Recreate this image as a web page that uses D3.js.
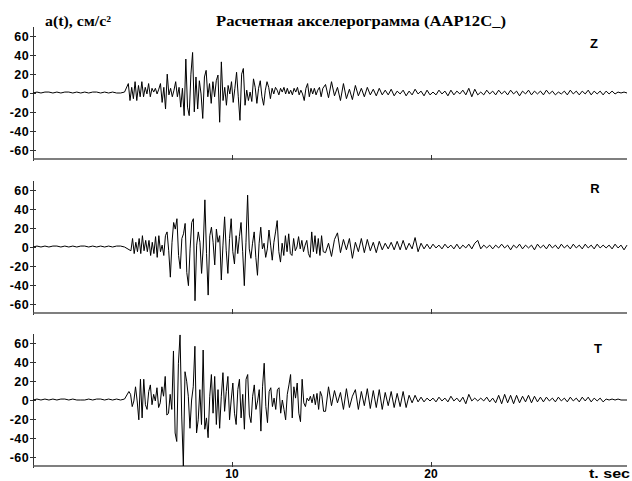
<!DOCTYPE html>
<html><head><meta charset="utf-8">
<script src="https://cdn.jsdelivr.net/npm/d3@7"></script>
<style>html,body{margin:0;padding:0;background:#fff;} svg{display:block;}</style>
</head><body><svg id="c" width="632" height="481"></svg>
<script>
// ---------------- data ----------------
const components = ["Z", "R", "T"];
const yTicks = [-60, -40, -20, 0, 20, 40, 60];
const xTickValues = [10, 20];
const xTickLabels = ["10", "20"];
const titleText = "Расчетная акселерограмма (AAP12C_)";
const yAxisLabel = "a(t), см/с²";
const xAxisLabel = "t. sec";

// quiet pre-event part (dt = 0.2 s from t = 0)
const preDt = 0.2;
const zPre = [0,1,0,1,1,0,1,0,1,1,0,1,0,1,0,1,1,0,1,0,1,0,0,1];
const rPre = [0,1,0,1,0,1,1,0,1,0,1,0,1,1,0,1,0,1,0,1,0,1,1,0];
const tPre = [0,1,0,1,0,1,0,1,1,0,1,0,0,0,1,0,1,1,0,1,0,1,0,1];

// strong-motion part
const zStrongStart = 4.79, zStrongDt = 0.085;
const zStrong = [10,-8,6,-6,12,-8,8,-4,12,-4,
  6,-1,10,-4,5,1,5,-1,4,10,
  -10,6,-17,20,-2,5,-4,3,12,-4,
  6,-15,5,-24,36,-15,-24,20,43,-20,
  17,-17,13,-1,-27,17,24,-4,10,-11,
  12,-4,13,19,-31,33,-8,6,-13,8,
  -1,12,-10,5,22,-4,-29,20,26,-13,
  3,-8,1,-9,15,6,-11,5,13,-4,
  -13,3,12,6,-6,5,-1,6,3,-2,
  5,1,6,-1,5,-1,3,-2,5,1,
  6,-2,3,-1,-8,5,10,-4,5,-1,
  5,-2,3,6,-4,5];
const rStrongStart = 4.92, rStrongDt = 0.0826;
const rStrong = [-4,9,-7,5,-5,9,-7,12,-4,7,
  -5,7,-9,5,-7,11,-11,12,-5,2,
  -9,12,16,-4,-32,5,26,19,30,-9,
  -23,9,14,25,-27,-41,-2,26,30,-57,
  2,16,5,-28,0,50,-7,-51,12,21,
  5,-19,19,5,12,-35,2,32,-4,-28,
  9,30,-5,-18,12,-7,11,26,-5,-41,
  5,55,-2,-12,4,16,-11,-30,4,21,
  -2,4,-11,-2,18,2,-14,5,16,28,
  -5,-16,4,-9,12,-5,14,-7,-9,9,
  -4,0,11,-2,7,-5,2,7,-7,-11,
  16,-5,12,-7,9,-9,12,-5];
const tStrongStart = 4.82, tStrongDt = 0.0829;
const tStrong = [9,6,-7,-1,14,-1,-21,22,-19,22,
  -5,-10,9,16,-5,6,-1,13,-8,-3,
  14,4,25,-16,-14,6,-10,52,-35,-44,
  39,69,-17,-70,30,20,4,-30,0,14,
  57,-35,-21,11,-26,53,-31,-19,-40,4,
  27,-14,25,-26,11,-30,4,29,-12,9,
  25,-21,0,18,-14,-26,11,22,-19,6,
  -31,22,27,-16,-24,4,16,-10,-1,11,
  -33,14,39,-7,-24,9,13,-7,2,-10,
  11,13,-14,0,-10,-21,6,16,27,-19,
  14,2,18,-14,-23,22,-3,-7,2,-1,
  4,-3,6,-5,7,-10,9,4,-12];

// coda part (dt = 0.15 s from t = 14.7)
const tailStart = 14.7, tailDt = 0.15;
const zTail = [9,-5,12,-3,6,-8,10,-6,4,-7,
  8,-3,5,-4,6,-2,4,-3,5,-2,
  3,-2,4,-3,2,-1,3,-3,2,-2,
  4,-1,2,-3,3,-2,1,-2,3,-1,
  2,-3,3,-2,2,-1,3,-2,5,-4,
  4,-2,1,-2,3,-1,2,-2,3,-1,
  2,-2,3,-1,2,-3,2,-1,3,-2,
  2,-1,2,-2,3,-1,2,-2,1,-1,
  2,-2,3,-1,2,-2,2,-1,3,-2,
  2,-1,2,-2,2,-1,2,-1,1,0,
  1,0];
const rTail = [-6,4,-10,8,15,-6,8,-3,9,-12,
  5,-5,9,-6,8,-4,5,-6,6,-3,
  4,-2,5,-3,6,-3,7,-3,4,-2,
  10,-5,4,-2,3,-2,3,-1,2,-2,
  3,-1,2,-2,3,-2,2,-1,3,-2,
  4,7,-2,2,-1,2,-2,2,-1,3,
  -1,2,-3,2,-1,3,-2,2,-1,2,
  -3,3,-1,2,-2,3,-1,2,-2,3,
  -1,2,-2,3,-1,2,-2,3,-1,2,
  -2,3,-1,2,-1,2,-2,3,-1,2,
  -3,2];
const tTail = [-12,14,-6,10,-3,8,-10,12,-8,4,
  11,-10,9,-6,12,-9,10,-8,11,-10,
  8,-6,9,-8,7,-7,9,-8,5,-3,
  5,-2,3,-2,2,-1,2,-2,3,-1,
  2,-2,4,-1,2,-2,3,-4,6,-1,
  2,-1,2,-1,3,-2,2,-3,5,-4,
  6,-3,5,-4,5,-3,4,-2,5,-3,
  4,-2,3,-2,3,-1,2,-2,3,-1,
  2,-2,3,-1,2,-2,3,-1,3,-2,
  2,-1,2,-2,1,0,1,0,1,0,
  0,0];

// ---------------- layout ----------------
const W = 632, H = 481;
const panelTops = [27, 181, 334];
const panelH = 132;
const labelPos = [{x: 594, y: 48}, {x: 595, y: 193}, {x: 598, y: 353}];

const traces = [
  {pre: zPre, s0: zStrongStart, sdt: zStrongDt, strong: zStrong, tail: zTail},
  {pre: rPre, s0: rStrongStart, sdt: rStrongDt, strong: rStrong, tail: rTail},
  {pre: tPre, s0: tStrongStart, sdt: tStrongDt, strong: tStrong, tail: tTail}
];

const svg = d3.select("#c");
svg.append("rect").attr("width", W).attr("height", H).attr("fill", "#fff");

const x = d3.scaleLinear().domain([0, 30]).range([33, 630]);
const sansBold = "'Liberation Sans', Arial, sans-serif";
const serif = "'Liberation Serif', 'Times New Roman', serif";

svg.append("text").attr("x", 45).attr("y", 26)
  .attr("font-family", serif).attr("font-weight", "bold").attr("font-size", 14)
  .attr("textLength", 66).attr("lengthAdjust", "spacingAndGlyphs")
  .text(yAxisLabel);
svg.append("text").attr("x", 216).attr("y", 26)
  .attr("font-family", serif).attr("font-weight", "bold").attr("font-size", 14)
  .attr("textLength", 290).attr("lengthAdjust", "spacingAndGlyphs")
  .text(titleText);

traces.forEach((tr, i) => {
  const top = panelTops[i];
  const bottom = top + panelH;
  const y = d3.scaleLinear().domain([-70, 70]).range([bottom, top]);
  const g = svg.append("g");

  // y axis
  g.append("line").attr("x1", 33.5).attr("x2", 33.5).attr("y1", top).attr("y2", bottom + 2)
    .attr("stroke", "#333").attr("stroke-width", 1);
  yTicks.forEach(v => {
    const yy = Math.round(y(v)) + 0.5;
    g.append("line").attr("x1", 30).attr("x2", 36).attr("y1", yy).attr("y2", yy)
      .attr("stroke", "#333").attr("stroke-width", 1);
    g.append("text").attr("x", 29).attr("y", yy).attr("dy", "0.36em")
      .attr("text-anchor", "end")
      .attr("font-family", sansBold).attr("font-weight", "bold").attr("font-size", 12.5)
      .attr("letter-spacing", "0.4px")
      .text(v);
  });

  // x axis
  g.append("line").attr("x1", x(0)).attr("x2", x(29.85)).attr("y1", bottom).attr("y2", bottom)
    .attr("stroke", "#555").attr("stroke-width", 1.5);
  xTickValues.forEach(v => {
    const xx = Math.round(x(v)) + 0.5;
    g.append("line").attr("x1", xx).attr("x2", xx).attr("y1", bottom - 4).attr("y2", bottom + 1)
      .attr("stroke", "#333").attr("stroke-width", 1);
  });

  // trace
  const pts = [];
  tr.pre.forEach((v, k) => pts.push([k * preDt, v]));
  tr.strong.forEach((v, k) => pts.push([tr.s0 + k * tr.sdt, v]));
  tr.tail.forEach((v, k) => pts.push([tailStart + k * tailDt, v]));
  const line = d3.line().x(d => x(d[0])).y(d => y(d[1]));
  g.append("path").attr("d", line(pts)).attr("fill", "none")
    .attr("stroke", "#000").attr("stroke-width", 1);

  // component label
  g.append("text").attr("x", labelPos[i].x).attr("y", labelPos[i].y)
    .attr("text-anchor", "middle")
    .attr("font-family", sansBold).attr("font-weight", "bold").attr("font-size", 13)
    .text(components[i]);
});

// bottom tick labels (kept inside the picture)
xTickValues.forEach((v, k) => {
  svg.append("text").attr("x", x(v)).attr("y", 478).attr("text-anchor", "middle")
    .attr("font-family", sansBold).attr("font-weight", "bold").attr("font-size", 12)
    .text(xTickLabels[k]);
});
svg.append("text").attr("x", 589).attr("y", 478)
  .attr("font-family", sansBold).attr("font-weight", "bold").attr("font-size", 12)
  .attr("textLength", 41).attr("lengthAdjust", "spacingAndGlyphs")
  .text(xAxisLabel);
</script></body></html>
